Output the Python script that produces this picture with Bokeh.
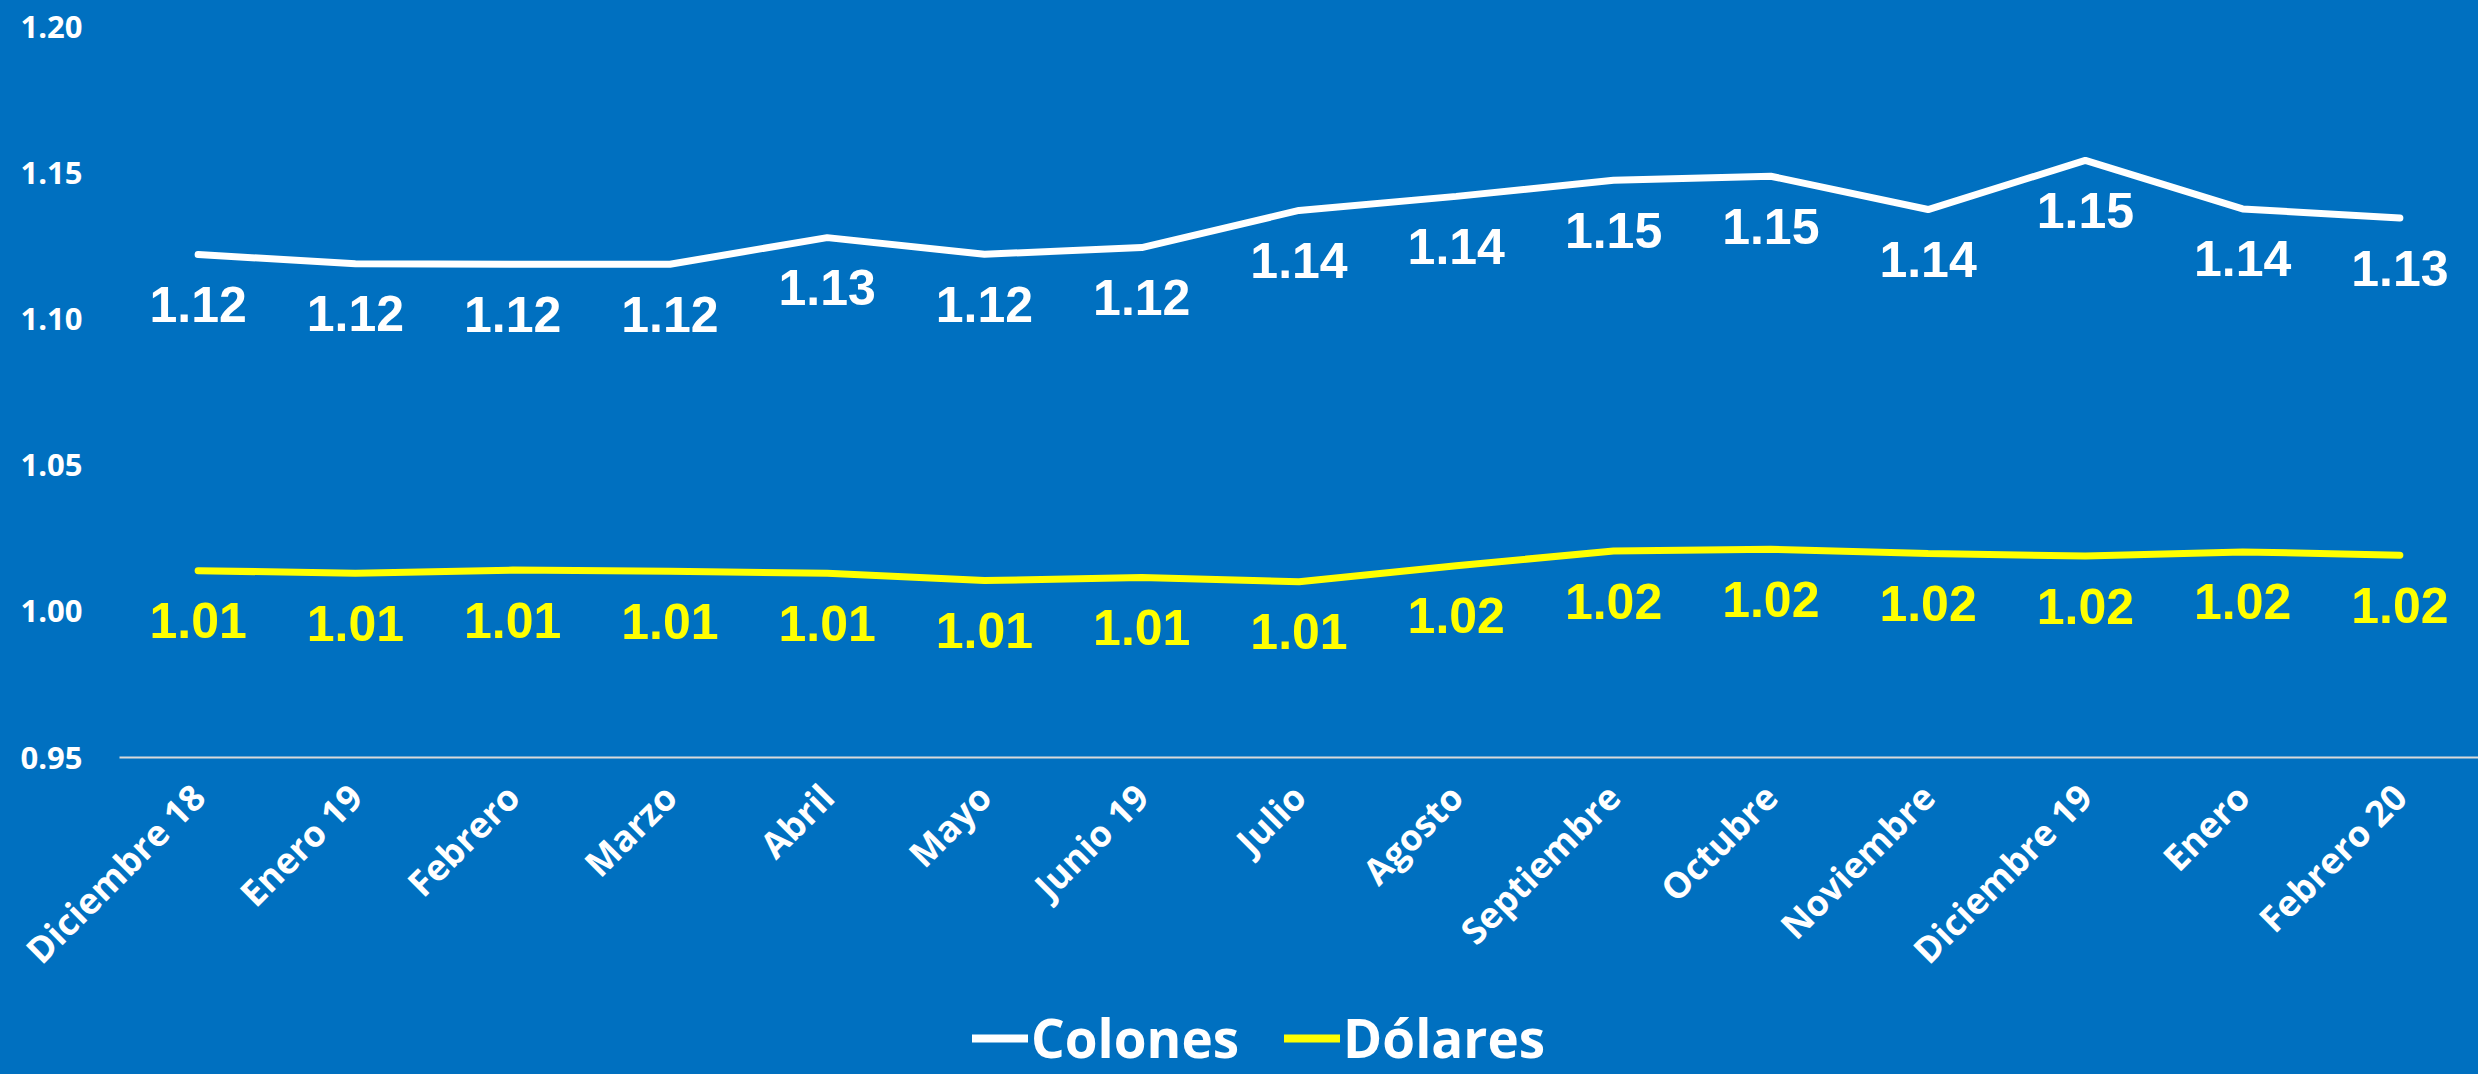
from math import pi
from bokeh.plotting import figure
from bokeh.layouts import column
from bokeh.models import (ColumnDataSource, FactorRange, Range1d, Legend, LegendItem,
                          NumeralTickFormatter, FixedTicker)
from bokeh.core.properties import value
from bokeh.embed import file_html
from bokeh.resources import INLINE

# ---- data ----
categories = ["Diciembre 18", "Enero 19", "Febrero", "Marzo", "Abril", "Mayo", "Junio 19",
              "Julio", "Agosto", "Septiembre", "Octubre", "Noviembre", "Diciembre 19",
              "Enero", "Febrero 20"]
colones = [1.1220, 1.1189, 1.1187, 1.1187, 1.1278, 1.1221, 1.1244, 1.1371, 1.1419,
           1.1474, 1.1488, 1.1374, 1.1542, 1.1376, 1.1345]
dolares = [1.0139, 1.0130, 1.0141, 1.0137, 1.0130, 1.0105, 1.0116, 1.0101, 1.0156,
           1.0206, 1.0212, 1.0198, 1.0189, 1.0203, 1.0192]
y_ticks = [0.95, 1.00, 1.05, 1.10, 1.15, 1.20]
series_names = ["Colones", "Dólares"]

BG = "#0070C0"
WHITE = "#FFFFFF"
YELLOW = "#FFFF00"
bg_style = {"background-color": BG}

src = ColumnDataSource(dict(
    cat=categories,
    col=colones,
    dol=dolares,
    col_lbl=[f"{v:.2f}" for v in colones],
    dol_lbl=[f"{v:.2f}" for v in dolares],
))

# ---- main chart ----
p = figure(width=2478, height=1002,
           x_range=FactorRange(factors=categories, range_padding=0),
           y_range=Range1d(0.95, 1.20),
           output_backend="svg", toolbar_location=None,
           background_fill_color=BG, border_fill_color=BG, outline_line_color=None,
           min_border_left=119, min_border_right=0, min_border_top=26, min_border_bottom=245,
           styles=bg_style)

p.xgrid.grid_line_color = None
p.ygrid.grid_line_color = None

p.yaxis.ticker = FixedTicker(ticks=y_ticks)
p.yaxis.formatter = NumeralTickFormatter(format="0.00")
p.yaxis.axis_line_color = None
p.yaxis.major_tick_line_color = None
p.yaxis.minor_tick_line_color = None
p.yaxis.major_tick_out = 0
p.yaxis.major_tick_in = 0
p.yaxis.major_label_standoff = 37
p.yaxis.major_label_text_font = "Open Sans"
p.yaxis.major_label_text_font_style = "bold"
p.yaxis.major_label_text_font_size = "31px"
p.yaxis.major_label_text_color = WHITE

p.xaxis.axis_line_color = "#D9D9D9"
p.xaxis.axis_line_width = 2
p.xaxis.major_tick_line_color = None
p.xaxis.minor_tick_line_color = None
p.xaxis.major_tick_out = 0
p.xaxis.major_tick_in = 0
p.xaxis.major_label_orientation = pi / 4
p.xaxis.major_label_standoff = 33
p.xaxis.major_label_text_font = "Open Sans"
p.xaxis.major_label_text_font_style = "bold"
p.xaxis.major_label_text_font_size = "36px"
p.xaxis.major_label_text_color = WHITE

p.line(x="cat", y="col", source=src, line_color=WHITE, line_width=7, line_cap="round")
p.line(x="cat", y="dol", source=src, line_color=YELLOW, line_width=7, line_cap="round")

p.text(x="cat", y="col", text="col_lbl", source=src, text_color=WHITE,
       text_font=value("Liberation Sans"), text_font_style="bold", text_font_size="50px",
       text_align="center", text_baseline="middle", y_offset=50)
p.text(x="cat", y="dol", text="dol_lbl", source=src, text_color=YELLOW,
       text_font=value("Liberation Sans"), text_font_style="bold", text_font_size="50px",
       text_align="center", text_baseline="middle", y_offset=50)

# ---- legend strip ----
lf = figure(width=2478, height=72, x_range=Range1d(0, 1), y_range=Range1d(0, 1),
            x_axis_type=None, y_axis_type=None,
            output_backend="svg", toolbar_location=None,
            background_fill_color=BG, border_fill_color=BG, outline_line_color=None,
            min_border_left=0, min_border_right=0, min_border_top=0, min_border_bottom=0,
            styles=bg_style)
lf.xgrid.grid_line_color = None
lf.ygrid.grid_line_color = None
nan = float("nan")
lr1 = lf.line(x=[nan], y=[nan], line_color=WHITE, line_width=8, line_cap="round")
lr2 = lf.line(x=[nan], y=[nan], line_color=YELLOW, line_width=8, line_cap="round")

legend = Legend(items=[LegendItem(label=series_names[0], renderers=[lr1]),
                       LegendItem(label=series_names[1], renderers=[lr2])],
                location=(853, 0), orientation="horizontal",
                background_fill_alpha=0, border_line_color=None,
                label_text_font="Open Sans", label_text_font_style="bold",
                label_text_font_size="53px", label_text_color=WHITE,
                glyph_width=56, glyph_height=40, label_standoff=3, spacing=45,
                padding=0, margin=0)
lf.add_layout(legend)

layout = column(p, lf, spacing=0, styles=bg_style)
open("out.html", "w").write(file_html(layout, INLINE))
